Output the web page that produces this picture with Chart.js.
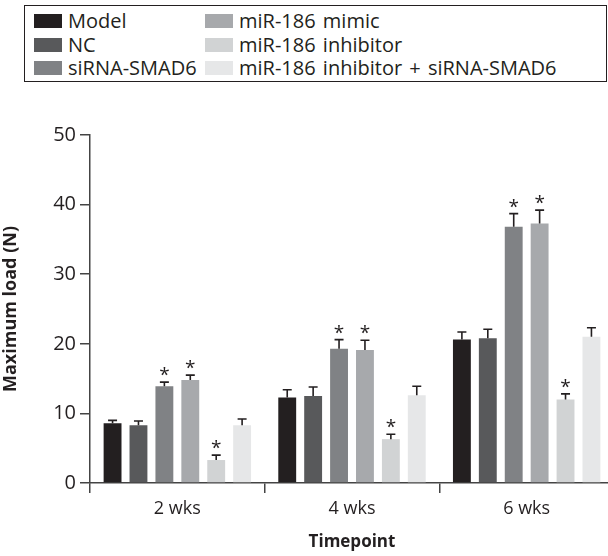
<!DOCTYPE html>
<html>
<head>
<meta charset="utf-8">
<script src="https://cdn.jsdelivr.net/npm/chart.js@4/dist/chart.umd.min.js"></script>
<style>
  html, body { margin: 0; padding: 0; background: #fff; overflow: hidden; }
  #wrap { position: relative; width: 614px; height: 556px; }
  #legend {
    position: absolute; left: 24px; top: 5px; width: 583px; height: 77px;
    border: 1.5px solid #231f20; box-sizing: border-box; background: #fff;
    font-family: "Open Sans", "Noto Sans", sans-serif; font-size: 20px; color: #231f20;
    word-spacing: 2px; z-index: 2;
  }
  .item { position: absolute; height: 23px; line-height: 23px; white-space: nowrap; }
  .sw { display: inline-block; width: 28px; height: 14px; vertical-align: 0px; margin-right: 6px; }
</style>
</head>
<body>
<div id="wrap">
  <div id="legend"></div>
  <canvas id="chart" width="614" height="556"></canvas>
</div>
<script>
const categories = ['2 wks', '4 wks', '6 wks'];
const groups = ['Model', 'NC', 'siRNA-SMAD6', 'miR-186 mimic', 'miR-186 inhibitor', 'miR-186 inhibitor + siRNA-SMAD6'];
const colors = ['#231f20', '#58595b', '#808285', '#a7a9ac', '#d1d3d4', '#e6e7e8'];

const model = [8.6, 12.3, 20.6];
const nc = [8.3, 12.5, 20.8];
const sirna = [13.9, 19.3, 36.8];
const mimic = [14.8, 19.1, 37.3];
const inhibitor = [3.3, 6.3, 12.0];
const combo = [8.3, 12.6, 21.0];

const modelErr = [0.4, 1.1, 1.1];
const ncErr = [0.6, 1.3, 1.3];
const sirnaErr = [0.6, 1.3, 1.9];
const mimicErr = [0.7, 1.4, 1.9];
const inhibitorErr = [0.7, 0.7, 0.8];
const comboErr = [0.9, 1.3, 1.3];

const starred = [false, false, true, true, true, false];

const values = [model, nc, sirna, mimic, inhibitor, combo];
const errors = [modelErr, ncErr, sirnaErr, mimicErr, inhibitorErr, comboErr];

// legend, two columns of three
const legend = document.getElementById('legend');
groups.forEach((g, i) => {
    const col = Math.floor(i / 3), row = i % 3;
    const el = document.createElement('div');
    el.className = 'item';
    el.style.left = (col === 0 ? 9 : 180) + 'px';
    el.style.top = (3 + row * 23.5) + 'px';
    el.innerHTML = `<span class="sw" style="background:${colors[i]}"></span>${g}`;
    legend.appendChild(el);
});

const errorBars = {
    id: 'errorBars',
    afterDatasetsDraw(chart) {
        const ctx = chart.ctx;
        const y = chart.scales.y;
        ctx.save();
        ctx.strokeStyle = '#231f20';
        ctx.fillStyle = '#231f20';
        ctx.lineWidth = 1.6;
        chart.data.datasets.forEach((ds, di) => {
            const meta = chart.getDatasetMeta(di);
            meta.data.forEach((bar, i) => {
                const top = y.getPixelForValue(values[di][i] + errors[di][i]);
                ctx.beginPath();
                ctx.moveTo(bar.x, bar.y);
                ctx.lineTo(bar.x, top);
                ctx.moveTo(bar.x - 4.5, top);
                ctx.lineTo(bar.x + 4.5, top);
                ctx.stroke();
                if (starred[di]) {
                    ctx.font = '19px "Open Sans", sans-serif';
                    ctx.textAlign = 'center';
                    ctx.textBaseline = 'alphabetic';
                    ctx.fillText('*', bar.x, top - 1);
                }
            });
        });
        ctx.restore();
    }
};

const family = '"Open Sans", "Noto Sans", sans-serif';

new Chart(document.getElementById('chart'), {
    type: 'bar',
    data: {
        labels: categories,
        datasets: groups.map((g, i) => ({
            label: g,
            data: values[i],
            backgroundColor: colors[i],
            borderWidth: 0,
            categoryPercentage: 0.89,
            barPercentage: 0.69
        }))
    },
    options: {
        responsive: false,
        animation: false,
        layout: { padding: { top: 135, left: 0, right: 0, bottom: 0 } },
        plugins: { legend: { display: false }, tooltip: { enabled: false } },
        scales: {
            x: {
                grid: { display: true, drawOnChartArea: false, offset: true, tickLength: 10, color: '#444', lineWidth: 1.5 },
                border: { display: true, color: '#444', width: 1.5 },
                ticks: { font: { family, size: 18 }, color: '#231f20', padding: 5 },
                title: { display: true, text: 'Timepoint', color: '#231f20', font: { family, size: 17, weight: 'bold' }, padding: { top: 2 } },
                afterFit: s => { s.height = 73; }
            },
            y: {
                min: 0, max: 50,
                ticks: { stepSize: 10, font: { family, size: 20 }, color: '#231f20', padding: 4 },
                grid: { display: true, drawOnChartArea: false, tickLength: 10, color: '#444', lineWidth: 1.5 },
                border: { display: true, color: '#444', width: 1.5 },
                title: { display: true, text: 'Maximum load (N)', color: '#231f20', font: { family, size: 18, weight: 'bold' }, padding: 0 },
                afterFit: s => { s.width = 90; }
            }
        }
    },
    plugins: [errorBars]
});
</script>
</body>
</html>
